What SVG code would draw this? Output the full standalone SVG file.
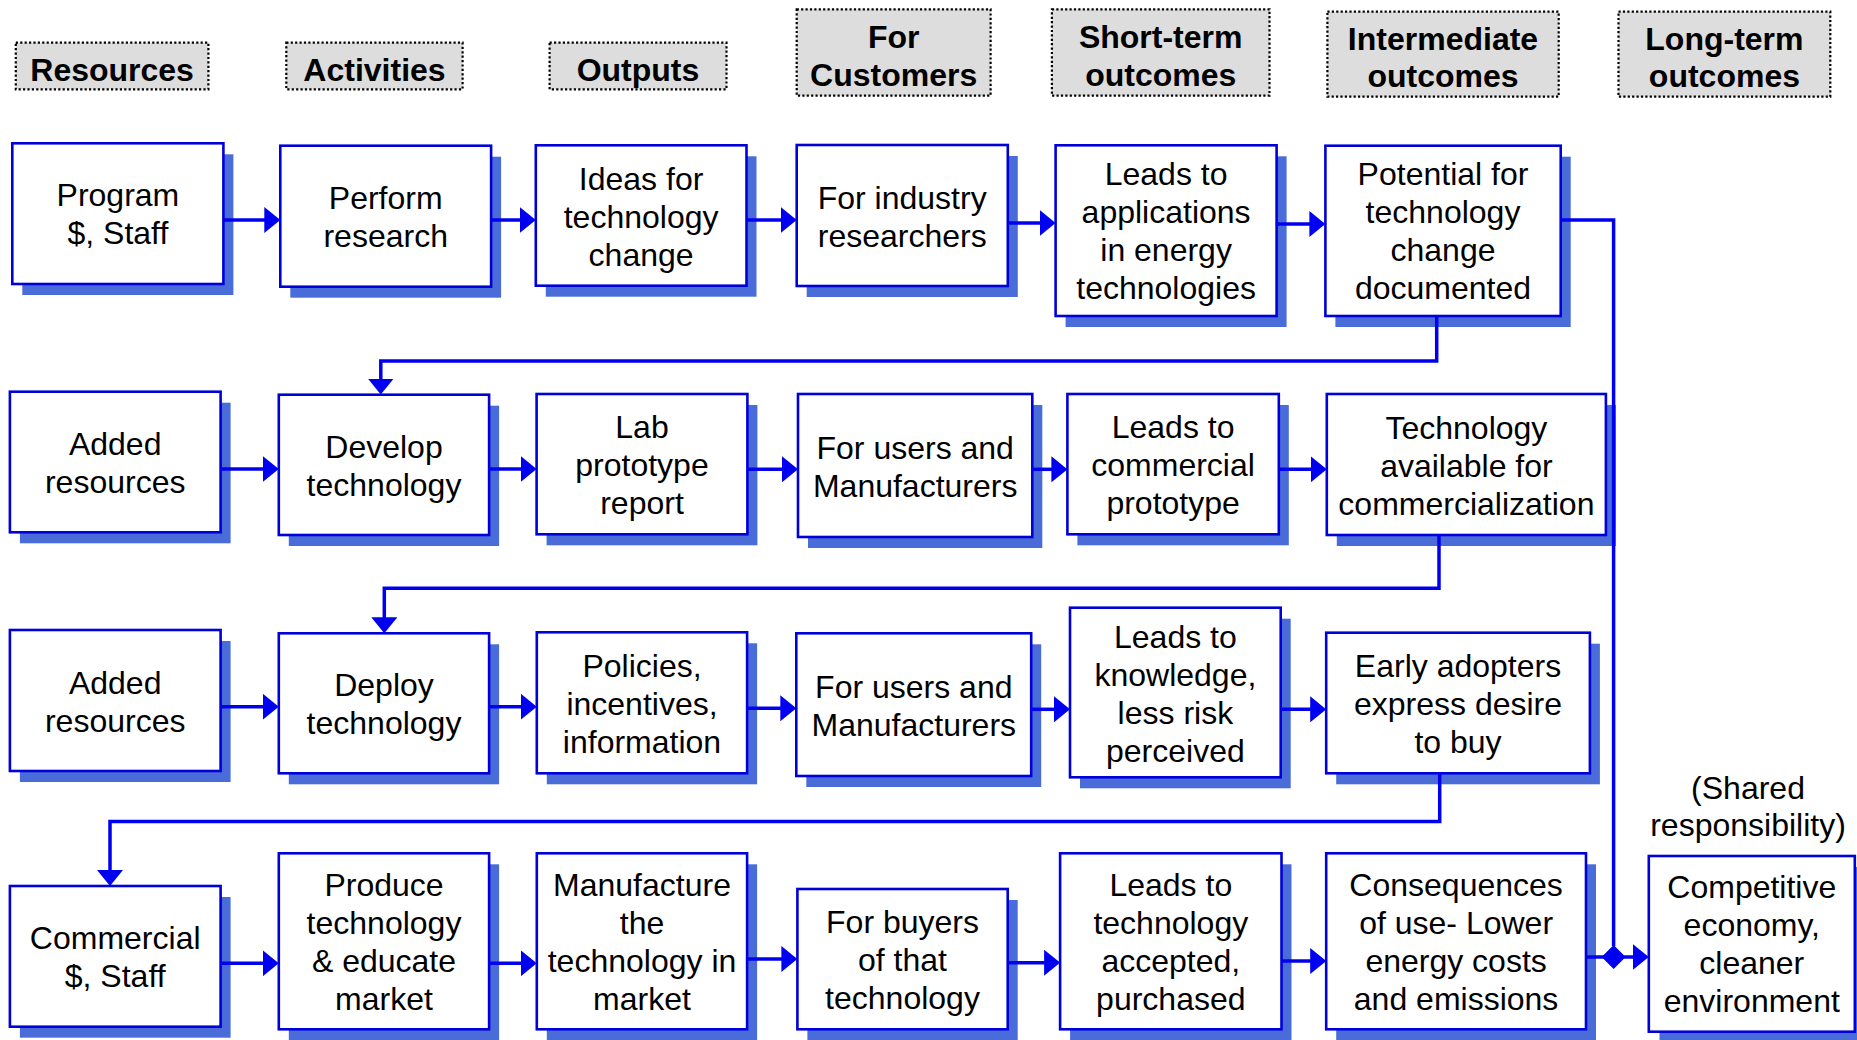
<svg xmlns="http://www.w3.org/2000/svg" width="1857" height="1040" viewBox="0 0 1857 1040">
<style>
.hdr{fill:#DDDDDD;stroke:#000;stroke-width:2.2;stroke-dasharray:2.2 2.2}
.ht{font-family:"Liberation Sans",Arial,sans-serif;font-weight:bold;font-size:32px;fill:#000;text-anchor:middle}
.sh{fill:#4A6CD9}
.bx{fill:#fff;stroke:#0000D8;stroke-width:2.6}
.t{font-family:"Liberation Sans",Arial,sans-serif;font-size:32px;fill:#000;text-anchor:middle}
.c{fill:none;stroke:#0000F0;stroke-width:3.5}
</style>
<defs>
<marker id="ah" markerUnits="userSpaceOnUse" markerWidth="16" markerHeight="26" refX="8" refY="13" orient="auto" viewBox="0 0 16 26">
<path d="M0,0 L16,13 L0,26 z" fill="#0000F0"/>
</marker>
</defs>

<!-- headers -->
<g id="h-resources"><rect class="hdr" x="15.8" y="42.7" width="192.6" height="46.6"/><text class="ht" x="112.1" y="81">Resources</text></g>
<g id="h-activities"><rect class="hdr" x="286.3" y="42.7" width="176.3" height="46.6"/><text class="ht" x="374.5" y="81">Activities</text></g>
<g id="h-outputs"><rect class="hdr" x="549.6" y="42.7" width="176.9" height="46.6"/><text class="ht" x="638" y="81">Outputs</text></g>
<g id="h-customers"><rect class="hdr" x="796.7" y="9.3" width="193.9" height="86.4"/><text class="ht" x="893.7" y="47.7">For</text><text class="ht" x="893.7" y="86">Customers</text></g>
<g id="h-short"><rect class="hdr" x="1051.9" y="9.3" width="217.6" height="86.4"/><text class="ht" x="1160.7" y="47.7">Short-term</text><text class="ht" x="1160.7" y="86">outcomes</text></g>
<g id="h-intermediate"><rect class="hdr" x="1327.4" y="11.7" width="231.3" height="85"/><text class="ht" x="1443" y="50">Intermediate</text><text class="ht" x="1443" y="87.3">outcomes</text></g>
<g id="h-long"><rect class="hdr" x="1618.5" y="11.7" width="211.8" height="85"/><text class="ht" x="1724.4" y="50">Long-term</text><text class="ht" x="1724.4" y="87.3">outcomes</text></g>

<!-- row 1 -->
<g id="n-program"><rect class="sh" x="22.3" y="154.3" width="211.1" height="140.7"/><rect class="bx" x="12.3" y="143.3" width="211.1" height="140.7"/>
<text class="t" x="117.9" y="206">Program</text><text class="t" x="117.9" y="244">$, Staff</text></g>
<g id="n-perform"><rect class="sh" x="290.3" y="156.7" width="210.8" height="141"/><rect class="bx" x="280.3" y="145.7" width="210.8" height="141"/>
<text class="t" x="385.7" y="209">Perform</text><text class="t" x="385.7" y="247">research</text></g>
<g id="n-ideas"><rect class="sh" x="545.8" y="156.3" width="210.7" height="140.4"/><rect class="bx" x="535.8" y="145.3" width="210.7" height="140.4"/>
<text class="t" x="641.1" y="189.5">Ideas for</text><text class="t" x="641.1" y="227.5">technology</text><text class="t" x="641.1" y="265.5">change</text></g>
<g id="n-industry"><rect class="sh" x="806.7" y="156" width="211.1" height="141"/><rect class="bx" x="796.7" y="145" width="211.1" height="141"/>
<text class="t" x="902.2" y="208.5">For industry</text><text class="t" x="902.2" y="246.5">researchers</text></g>
<g id="n-applications"><rect class="sh" x="1065.6" y="156.3" width="221" height="170.7"/><rect class="bx" x="1055.6" y="145.3" width="221" height="170.7"/>
<text class="t" x="1166.1" y="185">Leads to</text><text class="t" x="1166.1" y="223">applications</text><text class="t" x="1166.1" y="261">in energy</text><text class="t" x="1166.1" y="299">technologies</text></g>
<g id="n-potential"><rect class="sh" x="1335.4" y="156.7" width="235.3" height="170.3"/><rect class="bx" x="1325.4" y="145.7" width="235.3" height="170.3"/>
<text class="t" x="1443" y="185">Potential for</text><text class="t" x="1443" y="223">technology</text><text class="t" x="1443" y="261">change</text><text class="t" x="1443" y="299">documented</text></g>

<!-- row 2 -->
<g id="n-added1"><rect class="sh" x="19.9" y="402.7" width="210.7" height="140.6"/><rect class="bx" x="9.9" y="391.7" width="210.7" height="140.6"/>
<text class="t" x="115.2" y="455">Added</text><text class="t" x="115.2" y="493">resources</text></g>
<g id="n-develop"><rect class="sh" x="288.8" y="405.7" width="210.3" height="140.3"/><rect class="bx" x="278.8" y="394.7" width="210.3" height="140.3"/>
<text class="t" x="384" y="458">Develop</text><text class="t" x="384" y="496">technology</text></g>
<g id="n-lab"><rect class="sh" x="546.6" y="405" width="210.8" height="140.3"/><rect class="bx" x="536.6" y="394" width="210.8" height="140.3"/>
<text class="t" x="642" y="438">Lab</text><text class="t" x="642" y="476">prototype</text><text class="t" x="642" y="514">report</text></g>
<g id="n-users1"><rect class="sh" x="808" y="405" width="234.3" height="143"/><rect class="bx" x="798" y="394" width="234.3" height="143"/>
<text class="t" x="915.2" y="458.5">For users and</text><text class="t" x="915.2" y="496.5">Manufacturers</text></g>
<g id="n-commproto"><rect class="sh" x="1077.4" y="405" width="211.4" height="140.3"/><rect class="bx" x="1067.4" y="394" width="211.4" height="140.3"/>
<text class="t" x="1173.1" y="438">Leads to</text><text class="t" x="1173.1" y="476">commercial</text><text class="t" x="1173.1" y="514">prototype</text></g>
<g id="n-available"><rect class="sh" x="1336.8" y="405" width="279.1" height="141"/><rect class="bx" x="1326.8" y="394" width="279.1" height="141"/>
<text class="t" x="1466.4" y="438.5">Technology</text><text class="t" x="1466.4" y="476.5">available for</text><text class="t" x="1466.4" y="514.5">commercialization</text></g>

<!-- row 3 -->
<g id="n-added2"><rect class="sh" x="19.9" y="641" width="210.7" height="141"/><rect class="bx" x="9.9" y="630" width="210.7" height="141"/>
<text class="t" x="115.2" y="693.5">Added</text><text class="t" x="115.2" y="731.5">resources</text></g>
<g id="n-deploy"><rect class="sh" x="288.8" y="644.3" width="210.3" height="140"/><rect class="bx" x="278.8" y="633.3" width="210.3" height="140"/>
<text class="t" x="384" y="696.3">Deploy</text><text class="t" x="384" y="734.3">technology</text></g>
<g id="n-policies"><rect class="sh" x="546.8" y="643.3" width="210.3" height="141"/><rect class="bx" x="536.8" y="632.3" width="210.3" height="141"/>
<text class="t" x="642" y="676.8">Policies,</text><text class="t" x="642" y="714.8">incentives,</text><text class="t" x="642" y="752.8">information</text></g>
<g id="n-users2"><rect class="sh" x="806.3" y="644.3" width="234.9" height="142.7"/><rect class="bx" x="796.3" y="633.3" width="234.9" height="142.7"/>
<text class="t" x="913.8" y="697.7">For users and</text><text class="t" x="913.8" y="735.7">Manufacturers</text></g>
<g id="n-knowledge"><rect class="sh" x="1080" y="618.7" width="210.7" height="169.6"/><rect class="bx" x="1070" y="607.7" width="210.7" height="169.6"/>
<text class="t" x="1175.4" y="647.5">Leads to</text><text class="t" x="1175.4" y="685.5">knowledge,</text><text class="t" x="1175.4" y="723.5">less risk</text><text class="t" x="1175.4" y="761.5">perceived</text></g>
<g id="n-early"><rect class="sh" x="1336.2" y="643.7" width="263.7" height="140.6"/><rect class="bx" x="1326.2" y="632.7" width="263.7" height="140.6"/>
<text class="t" x="1458" y="677">Early adopters</text><text class="t" x="1458" y="715">express desire</text><text class="t" x="1458" y="753">to buy</text></g>

<!-- row 4 -->
<g id="n-commercial"><rect class="sh" x="19.9" y="897" width="210.7" height="140.7"/><rect class="bx" x="9.9" y="886" width="210.7" height="140.7"/>
<text class="t" x="115.2" y="949.3">Commercial</text><text class="t" x="115.2" y="987.3">$, Staff</text></g>
<g id="n-produce"><rect class="sh" x="288.8" y="864.3" width="210.3" height="176"/><rect class="bx" x="278.8" y="853.3" width="210.3" height="176"/>
<text class="t" x="384" y="896">Produce</text><text class="t" x="384" y="934">technology</text><text class="t" x="384" y="972">&amp; educate</text><text class="t" x="384" y="1010">market</text></g>
<g id="n-manufacture"><rect class="sh" x="546.8" y="864.3" width="210.3" height="176"/><rect class="bx" x="536.8" y="853.3" width="210.3" height="176"/>
<text class="t" x="642" y="896">Manufacture</text><text class="t" x="642" y="934">the</text><text class="t" x="642" y="972">technology in</text><text class="t" x="642" y="1010">market</text></g>
<g id="n-buyers"><rect class="sh" x="807.4" y="900" width="210.3" height="140.3"/><rect class="bx" x="797.4" y="889" width="210.3" height="140.3"/>
<text class="t" x="902.5" y="933">For buyers</text><text class="t" x="902.5" y="971">of that</text><text class="t" x="902.5" y="1009">technology</text></g>
<g id="n-accepted"><rect class="sh" x="1070.1" y="864.3" width="221.4" height="176"/><rect class="bx" x="1060.1" y="853.3" width="221.4" height="176"/>
<text class="t" x="1170.8" y="896">Leads to</text><text class="t" x="1170.8" y="934">technology</text><text class="t" x="1170.8" y="972">accepted,</text><text class="t" x="1170.8" y="1010">purchased</text></g>
<g id="n-consequences"><rect class="sh" x="1336.2" y="864.3" width="259.8" height="176"/><rect class="bx" x="1326.2" y="853.3" width="259.8" height="176"/>
<text class="t" x="1456.1" y="896">Consequences</text><text class="t" x="1456.1" y="934">of use- Lower</text><text class="t" x="1456.1" y="972">energy costs</text><text class="t" x="1456.1" y="1010">and emissions</text></g>
<g id="n-competitive"><rect class="sh" x="1659.5" y="867" width="206" height="175.7"/><rect class="bx" x="1648.8" y="856" width="206" height="175.7"/>
<text class="t" x="1751.8" y="898">Competitive</text><text class="t" x="1751.8" y="936">economy,</text><text class="t" x="1751.8" y="974">cleaner</text><text class="t" x="1751.8" y="1012">environment</text></g>

<g id="label-shared">
<text class="t" x="1748" y="798.5">(Shared</text><text class="t" x="1748" y="836">responsibility)</text></g>

<!-- connectors -->
<g id="connectors">
<path class="c" marker-end="url(#ah)" d="M223.4,220 H272.3"/>
<path class="c" marker-end="url(#ah)" d="M491.1,220 H527.8"/>
<path class="c" marker-end="url(#ah)" d="M746.5,220 H788.7"/>
<path class="c" marker-end="url(#ah)" d="M1007.8,223 H1047.6"/>
<path class="c" marker-end="url(#ah)" d="M1276.6,224 H1317.4"/>
<path class="c" marker-end="url(#ah)" d="M1436.7,316 V361 H380.8 V386.5"/>
<path class="c" d="M1560.7,220 H1613.6 V946"/>

<path class="c" marker-end="url(#ah)" d="M220.6,469 H270.8"/>
<path class="c" marker-end="url(#ah)" d="M489.1,469 H528.6"/>
<path class="c" marker-end="url(#ah)" d="M747.4,469.3 H790"/>
<path class="c" marker-end="url(#ah)" d="M1032.3,469.3 H1059.4"/>
<path class="c" marker-end="url(#ah)" d="M1278.8,469.3 H1318.8"/>
<path class="c" marker-end="url(#ah)" d="M1439,535 V588.3 H384.3 V625.3"/>

<path class="c" marker-end="url(#ah)" d="M220.6,706.7 H270.8"/>
<path class="c" marker-end="url(#ah)" d="M489.1,706.7 H528.8"/>
<path class="c" marker-end="url(#ah)" d="M747.1,708.3 H788.3"/>
<path class="c" marker-end="url(#ah)" d="M1031.2,709.3 H1062"/>
<path class="c" marker-end="url(#ah)" d="M1280.7,709.3 H1318.2"/>
<path class="c" marker-end="url(#ah)" d="M1439.7,773.3 V821.5 H110 V878"/>

<path class="c" marker-end="url(#ah)" d="M220.6,963.3 H270.8"/>
<path class="c" marker-end="url(#ah)" d="M489.1,963.3 H528.8"/>
<path class="c" marker-end="url(#ah)" d="M747.1,959 H789.4"/>
<path class="c" marker-end="url(#ah)" d="M1007.7,962.7 H1052.1"/>
<path class="c" marker-end="url(#ah)" d="M1281.5,961 H1318.2"/>
<path class="c" marker-end="url(#ah)" d="M1586,957 H1640.8"/>
<path d="M1613.6,945 L1625.6,957 L1613.6,969 L1601.6,957 z" fill="#0000F0"/>
</g>
</svg>
